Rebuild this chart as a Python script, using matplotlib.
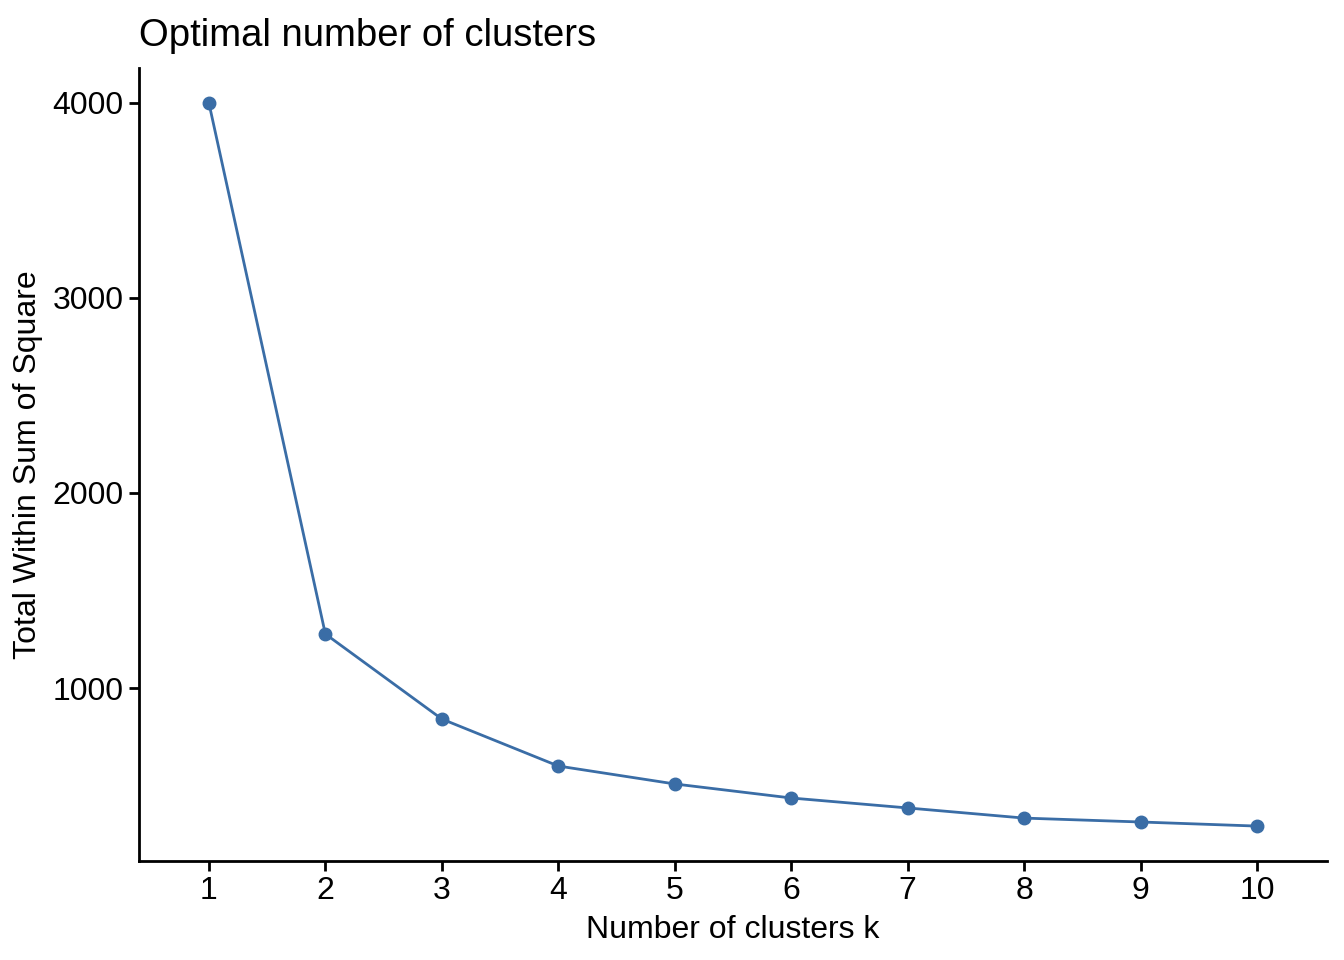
import numpy as np
import matplotlib
matplotlib.use('Agg')
import matplotlib.pyplot as plt

plt.rcParams['font.family'] = ['Liberation Sans', 'DejaVu Sans']

# Elbow curve values
k = [1, 2, 3, 4, 5, 6, 7, 8, 9, 10]
wss = [4000, 1277, 841, 600, 508, 436, 385, 333, 313, 292]

col = '#3A6DA6'

fig = plt.figure(figsize=(13.44, 9.6), dpi=100)
ax = fig.add_axes([139/1344, 1 - 861/960, (1327-139)/1344, (861-68)/960])

ax.plot(k, wss, color=col, lw=2, marker='o', ms=9, zorder=3)

ax.set_xlim(0.4, 10.6)
ax.set_ylim(113, 4179)
ax.set_xticks(k)
ax.set_yticks([1000, 2000, 3000, 4000])

for s in ['top', 'right']:
    ax.spines[s].set_visible(False)
for s in ['left', 'bottom']:
    ax.spines[s].set_linewidth(2)
ax.tick_params(width=2, length=7, labelsize=23, colors='black', pad=4)

ax.set_xlabel('Number of clusters k', fontsize=23, labelpad=6)
ax.set_ylabel('Total Within Sum of Square', fontsize=23, labelpad=7)
ax.set_title('Optimal number of clusters', fontsize=27.5, loc='left', pad=16)

fig.savefig('out.png', dpi=100)
